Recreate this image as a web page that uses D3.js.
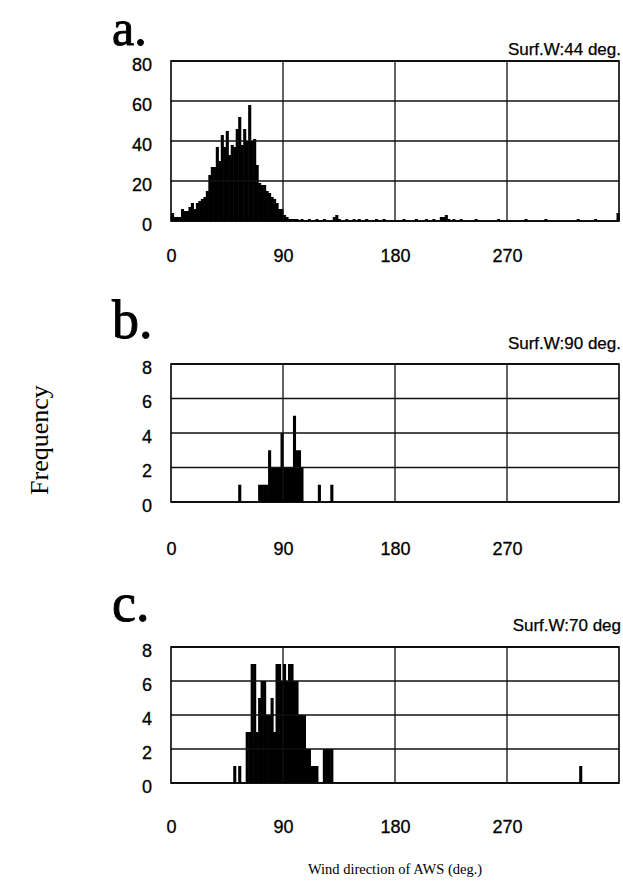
<!DOCTYPE html>
<html><head><meta charset="utf-8">
<script src="https://cdn.jsdelivr.net/npm/d3@7/dist/d3.min.js"></script>
<style>
html,body{margin:0;padding:0;background:#fff;}
svg{display:block;}
</style></head>
<body>
<script>
// ---- data (2-degree bins; bin start in degrees, count) ----
const binWidth = 2;
const xTicks = [0, 90, 180, 270];
const gridX = [90, 180, 270];

const panelLetters = ["a.", "b.", "c."];
const panelNotes = ["Surf.W:44 deg.", "Surf.W:90 deg.", "Surf.W:70 deg"];
const yTicksA = [0, 20, 40, 60, 80];
const yTicksBC = [0, 2, 4, 6, 8];

const binsA = [0,2,4,6,8,10,12,14,16,18,20,22,24,26,28,30,32,34,36,38,40,42,44,46,48,50,52,54,56,58,60,62,64,66,68,70,72,74,76,78,80,82,84,86,88,90,92,94,96,98,100,104,110,116,122,130,132,134,140,146,150,156,164,170,186,196,204,210,216,218,220,222,226,232,244,262,284,300,326,340,358];
const countsA = [4,2,2,2,6,5,5,7,9,6,9,10,11,12,15,23,27,27,37,30,43,37,45,33,38,37,46,52,38,46,40,58,40,41,28,19,18,18,15,14,12,11,9,6,6,3,2,1,1,1,1,1,1,1,1,2,3,1,1,1,1,1,1,1,1,1,1,1,2,2,3,1,1,1,1,1,1,1,1,1,4];

const binsB = [54,70,72,74,76,78,80,82,84,86,88,90,92,94,96,98,100,102,104,118,128];
const countsB = [1,1,1,1,1,3,2,2,2,2,4,2,2,2,2,5,3,3,2,1,1];

const binsC = [50,54,60,62,64,66,68,70,72,74,76,78,80,82,84,86,88,90,92,94,96,98,100,102,104,106,108,110,112,114,116,122,124,126,128,328];
const countsC = [1,1,3,3,7,7,3,5,6,6,4,4,5,3,7,7,6,7,6,7,7,6,6,4,4,4,2,2,1,1,1,2,2,2,2,1];

const xLabel = "Wind direction of AWS (deg.)";
const yLabel = "Frequency";

// ---- layout ----
const W = 623, H = 882;
const plotLeft = 171, plotRight = 619;
const panels = [
  {bins: binsA, counts: countsA, yMax: 80, ticks: yTicksA, top: 61, bottom: 221, letterY: 45, noteY: 55, xLabY: 262},
  {bins: binsB, counts: countsB, yMax: 8, ticks: yTicksBC, top: 364, bottom: 502, letterY: 338, noteY: 349, xLabY: 555},
  {bins: binsC, counts: countsC, yMax: 8, ticks: yTicksBC, top: 647, bottom: 783, letterY: 621, noteY: 631, xLabY: 833}
];

const svg = d3.select("body").append("svg").attr("width", W).attr("height", H);
const x = d3.scaleLinear().domain([0, 360]).range([plotLeft, plotRight]);

const sans = "'Liberation Sans', Arial, sans-serif";
const serif = "'Liberation Serif', 'Times New Roman', serif";

panels.forEach((p, i) => {
  const y = d3.scaleLinear().domain([0, p.yMax]).range([p.bottom, p.top]);
  const g = svg.append("g");

  // bars (slightly overlapped so adjacent bins read as a solid block)
  g.selectAll("rect.bar").data(p.bins.map((b, k) => ({b, c: p.counts[k]})))
    .join("rect").attr("class", "bar")
    .attr("x", d => x(d.b))
    .attr("width", d => x(d.b + binWidth) - x(d.b) + 0.6)
    .attr("y", d => y(d.c))
    .attr("height", d => y(0) - y(d.c))
    .attr("fill", "#000");

  // horizontal grid
  g.selectAll("line.hg").data(p.ticks).join("line").attr("class", "hg")
    .attr("x1", plotLeft).attr("x2", plotRight)
    .attr("y1", d => y(d)).attr("y2", d => y(d))
    .attr("stroke", "#111").attr("stroke-width", 1.3);
  // vertical grid
  g.selectAll("line.vg").data(gridX).join("line").attr("class", "vg")
    .attr("x1", d => x(d)).attr("x2", d => x(d))
    .attr("y1", p.top).attr("y2", p.bottom)
    .attr("stroke", "#111").attr("stroke-width", 1.3);
  // frame
  g.append("rect").attr("x", plotLeft).attr("y", p.top)
    .attr("width", plotRight - plotLeft).attr("height", p.bottom - p.top)
    .attr("fill", "none").attr("stroke", "#000").attr("stroke-width", 1.6);

  // y axis labels
  const yAxis = d3.axisLeft(y).tickValues(p.ticks).tickSize(0).tickPadding(19);
  const ya = g.append("g").attr("transform", `translate(${plotLeft},0)`).call(yAxis);
  ya.select(".domain").remove();
  ya.selectAll("text").attr("font-family", sans).attr("font-size", 18).attr("fill", "#000")
    .attr("stroke", "#000").attr("stroke-width", 0.3)
    .attr("dy", "0.52em");

  // x axis labels
  const xAxis = d3.axisBottom(x).tickValues(xTicks).tickSize(0).tickPadding(0);
  const xa = g.append("g").attr("transform", `translate(0,${p.xLabY})`).call(xAxis);
  xa.select(".domain").remove();
  xa.selectAll("text").attr("font-family", sans).attr("font-size", 18).attr("fill", "#000")
    .attr("stroke", "#000").attr("stroke-width", 0.3)
    .attr("dy", "0").attr("y", 0);

  // panel letter
  svg.append("text").attr("x", 112).attr("y", p.letterY)
    .attr("font-family", serif).attr("font-size", i === 0 ? 50 : 54).attr("fill", "#000")
    .attr("stroke", "#000").attr("stroke-width", 0.9)
    .text(panelLetters[i]);
  // note
  svg.append("text").attr("x", 621).attr("y", p.noteY).attr("text-anchor", "end")
    .attr("font-family", sans).attr("font-size", 17).attr("fill", "#000")
    .attr("stroke", "#000").attr("stroke-width", 0.25)
    .text(panelNotes[i]);
});

svg.append("text").attr("transform", "translate(48,440) rotate(-90)")
  .attr("text-anchor", "middle").attr("font-family", serif).attr("font-size", 26)
  .attr("fill", "#000").text(yLabel);

svg.append("text").attr("x", 395).attr("y", 874).attr("text-anchor", "middle")
  .attr("font-family", serif).attr("font-size", 14.5).attr("fill", "#000").text(xLabel);
</script>
</body></html>
